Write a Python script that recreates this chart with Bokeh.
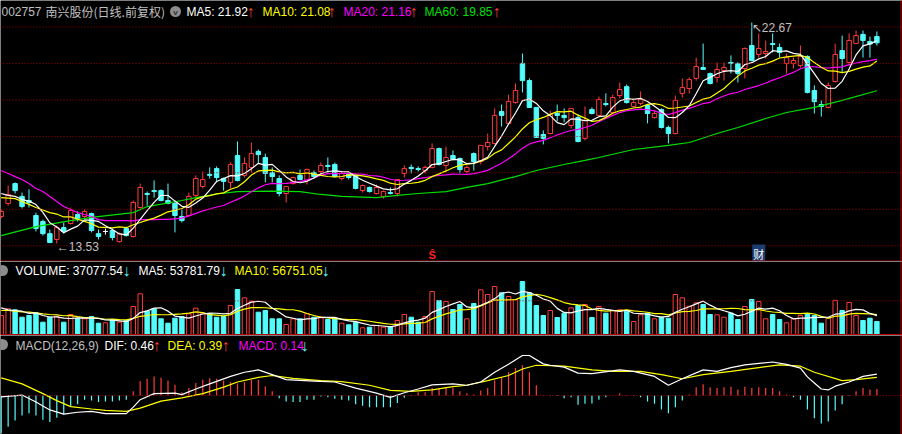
from bokeh.plotting import figure
from bokeh.layouts import column
from bokeh.models import Range1d, Span, Label, ColumnDataSource
from bokeh.embed import file_html
from bokeh.resources import INLINE

# ---------------------------------------------------------------
# 002757 南兴股份, daily bars (forward adjusted)
# ---------------------------------------------------------------
opens = [
    14.65, 15.19, 16.01, 15.48, 15.31, 14.69, 14.44, 13.94, 13.70, 14.19,
    14.36, 14.73, 14.65, 14.77, 13.94, 14.03, 14.07, 13.61, 14.15, 13.82,
    15.02, 15.60, 15.72, 15.72, 15.31, 15.19, 14.65, 14.69, 15.52, 15.89,
    16.39, 16.63, 16.22, 16.06, 17.17, 16.35, 16.68, 17.34, 17.09, 16.47,
    16.22, 15.60, 16.01, 16.35, 16.14, 16.47, 16.51, 16.76, 16.80, 16.22,
    16.39, 16.35, 15.72, 15.85, 15.60, 15.48, 15.64, 15.60, 16.43, 16.68,
    16.63, 16.55, 16.68, 17.46, 16.76, 17.17, 17.05, 16.51, 17.25, 16.92,
    17.54, 17.67, 18.99, 18.50, 19.36, 20.98, 20.27, 19.16, 18.04, 18.08,
    18.91, 18.83, 18.41, 18.74, 17.88, 19.07, 18.83, 19.32, 18.95, 19.65,
    20.02, 19.20, 19.32, 19.24, 18.74, 19.07, 18.33, 18.08, 19.74, 19.94,
    20.36, 20.81, 20.56, 20.40, 20.69, 21.02, 20.98, 20.77, 21.72, 21.35,
    21.39, 21.80, 21.64, 20.98, 20.98, 20.89, 21.27, 19.86, 19.28, 19.16,
    20.23, 21.51, 21.02, 21.80, 22.18, 21.89, 22.09,
]
highs = [
    14.94, 15.93, 16.06, 15.64, 15.77, 14.81, 14.52, 14.11, 14.28, 14.40,
    15.02, 14.86, 14.94, 14.81, 14.11, 14.15, 14.15, 13.99, 14.23, 15.31,
    16.01, 15.68, 16.14, 15.77, 16.01, 15.31, 14.94, 15.64, 16.35, 16.51,
    16.68, 16.72, 16.26, 16.88, 17.75, 17.09, 17.71, 17.42, 17.25, 16.68,
    16.35, 15.89, 16.30, 16.59, 16.63, 16.55, 16.88, 17.09, 16.88, 16.51,
    16.47, 16.39, 15.97, 15.89, 15.97, 15.72, 15.85, 16.18, 16.76, 16.80,
    16.72, 16.76, 17.67, 17.50, 17.54, 17.38, 17.09, 16.76, 17.30, 17.59,
    18.08, 19.12, 19.28, 19.69, 20.15, 21.39, 20.36, 19.16, 18.21, 19.03,
    19.28, 19.12, 19.12, 18.87, 19.20, 19.16, 19.61, 19.74, 19.69, 20.19,
    20.11, 19.53, 19.82, 19.28, 19.03, 19.12, 18.41, 19.65, 20.36, 20.40,
    21.22, 21.80, 20.60, 21.02, 21.02, 21.31, 21.02, 21.64, 22.67, 22.22,
    21.93, 22.22, 21.80, 21.39, 21.22, 21.72, 21.31, 20.07, 19.45, 20.19,
    21.80, 22.13, 22.22, 22.34, 22.34, 22.09, 22.30,
]
lows = [
    14.57, 15.10, 15.60, 14.98, 15.02, 14.03, 13.86, 13.57, 13.53, 13.94,
    14.32, 14.44, 14.57, 13.99, 13.70, 13.90, 13.66, 13.57, 13.82, 13.78,
    14.98, 15.10, 15.43, 15.27, 15.15, 13.99, 14.40, 14.65, 15.43, 15.81,
    16.22, 16.06, 15.72, 15.81, 16.10, 16.26, 16.47, 16.84, 16.06, 16.06,
    15.48, 15.23, 15.97, 16.14, 15.97, 16.22, 16.43, 16.43, 16.26, 16.14,
    16.18, 15.77, 15.64, 15.64, 15.56, 15.39, 15.56, 15.48, 16.26, 16.43,
    16.51, 16.43, 16.63, 16.76, 16.47, 16.97, 16.43, 16.43, 16.55, 16.80,
    17.38, 17.63, 18.37, 18.45, 19.32, 19.78, 19.16, 17.92, 17.63, 18.04,
    18.58, 18.54, 18.29, 17.71, 17.79, 18.87, 18.78, 19.20, 18.91, 19.53,
    19.32, 19.16, 19.24, 18.50, 18.70, 18.29, 17.67, 18.04, 19.57, 19.74,
    20.27, 20.73, 20.11, 20.19, 20.27, 20.56, 20.19, 20.36, 21.06, 21.22,
    21.18, 21.43, 21.22, 20.56, 20.77, 20.81, 19.74, 18.91, 18.78, 19.12,
    20.19, 20.60, 20.89, 21.80, 21.22, 21.22, 21.72,
]
closes = [
    14.86, 15.56, 15.72, 15.06, 15.23, 14.15, 13.94, 13.57, 14.19, 14.03,
    14.90, 14.57, 14.86, 14.07, 13.82, 14.03, 13.78, 13.94, 13.86, 15.23,
    15.85, 15.56, 15.68, 15.31, 15.19, 14.69, 14.48, 15.48, 16.22, 16.18,
    16.35, 16.26, 16.10, 16.80, 16.14, 16.84, 17.25, 17.21, 16.43, 16.30,
    15.60, 15.89, 16.26, 16.18, 16.59, 16.30, 16.76, 16.72, 16.30, 16.43,
    16.26, 15.81, 15.93, 15.68, 15.85, 15.68, 15.60, 16.18, 16.63, 16.63,
    16.59, 16.68, 17.46, 16.80, 17.09, 17.01, 16.59, 16.68, 16.92, 17.59,
    17.71, 18.83, 18.83, 19.41, 19.86, 20.27, 19.16, 17.92, 17.88, 18.87,
    18.83, 18.74, 19.12, 17.75, 18.62, 18.91, 19.49, 19.28, 19.57, 19.90,
    19.36, 19.36, 19.49, 18.91, 18.91, 18.33, 18.08, 19.45, 19.98, 20.31,
    20.85, 20.73, 20.15, 20.73, 20.81, 20.98, 20.56, 21.60, 21.10, 21.60,
    21.47, 21.76, 21.43, 21.22, 21.10, 21.27, 19.78, 19.40, 19.20, 20.07,
    21.35, 21.18, 21.93, 22.13, 21.93, 21.78, 21.83,
]
volumes = [
    54150, 73245, 70395, 49305, 54150, 61845, 35055, 49305, 51300, 35055,
    57000, 44745, 44745, 51300, 32205, 33345, 41895, 35055, 39900, 79800,
    115995, 66405, 73245, 44745, 32205, 46455, 51300, 58995, 74955, 60705,
    58995, 49305, 51300, 82650, 128250, 104595, 94905, 63555, 68400, 44745,
    44745, 28500, 44745, 44745, 58995, 49305, 47595, 42750, 44745, 32205,
    27645, 35055, 19095, 20805, 25650, 20805, 22800, 39900, 57000, 49305,
    35055, 51300, 122550, 96900, 94050, 71250, 85500, 44745, 88350, 127395,
    114000, 136800, 118845, 108300, 98895, 151050, 118845, 82650, 54150, 68400,
    48450, 60705, 76095, 82650, 85500, 48450, 79800, 60705, 68400, 70395,
    66405, 37050, 56145, 60705, 44745, 49305, 46455, 114000, 104595, 80655,
    90345, 85500, 57000, 56145, 49305, 60705, 42750, 79800, 99750, 94050,
    44745, 57000, 42750, 33345, 44745, 54150, 58995, 54150, 32205, 46455,
    97391.55, 68400, 91326.41, 54150, 39900, 46455, 37077.54,
]

# Averages whose window reaches back before the first bar shown
ma5_head = [15.60, 15.52, 15.48, 15.35]
ma10_head = [15.43, 15.41, 15.39, 15.27, 15.15, 15.02, 14.92, 14.81, 14.75]
ma20_head = [16.55, 16.43, 16.30, 16.18, 16.01, 15.81, 15.68, 15.48, 15.27, 15.06,
             14.94, 14.81, 14.73, 14.65, 14.52, 14.48, 14.48, 14.48, 14.48]
vol_ma5_head = [76095, 70395, 68400, 66405]
vol_ma10_head = [68400, 68400, 66405, 64695, 63555, 61845, 58995, 57000, 56145]

# 60-day average, sampled at bar positions
ma60_at = [0, 5, 10, 13, 19, 21, 26, 28, 31, 34, 39, 43, 46, 49, 54, 57, 60, 64, 67, 70,
           74, 77, 81, 84, 86, 91, 96, 99, 103, 106, 110, 113, 117, 121, 126]
ma60_val = [13.86, 14.23, 14.48, 14.61, 14.81, 15.06, 15.31, 15.43, 15.58, 15.68, 15.70,
            15.68, 15.56, 15.48, 15.43, 15.52, 15.60, 15.68, 15.85, 16.01, 16.30, 16.55,
            16.80, 16.97, 17.09, 17.42, 17.59, 17.71, 18.08, 18.33, 18.70, 18.95, 19.16,
            19.45, 19.85]

# MACD(12,26,9)
dif_at = [0, 3, 5, 7, 9, 11, 13, 15, 18, 19, 20, 22, 25, 26, 28, 30, 33, 35, 37, 39, 41,
          45, 48, 51, 54, 56, 58, 60, 62, 65, 67, 69, 71, 73, 75, 76, 78, 79, 81, 83, 85,
          89, 91, 94, 96, 98, 101, 103, 105, 107, 111, 113, 115, 116, 117, 118, 119, 120,
          122, 124, 126]
dif_val = [-0.03, 0.01, -0.14, -0.31, -0.40, -0.36, -0.34, -0.39, -0.39, -0.25, -0.09,
           0.04, 0.05, 0.02, 0.14, 0.25, 0.41, 0.50, 0.55, 0.45, 0.34, 0.31, 0.29, 0.16,
           0.05, -0.04, 0.06, 0.14, 0.23, 0.25, 0.22, 0.29, 0.50, 0.67, 0.86, 0.86, 0.68,
           0.65, 0.61, 0.48, 0.47, 0.55, 0.52, 0.41, 0.22, 0.36, 0.55, 0.52, 0.60, 0.66,
           0.72, 0.67, 0.59, 0.40, 0.27, 0.14, 0.12, 0.20, 0.29, 0.41, 0.46]
dea_at = [0, 3, 6, 8, 10, 13, 15, 18, 20, 23, 26, 29, 32, 34, 37, 39, 42, 46, 49, 53, 56,
          59, 62, 65, 67, 70, 73, 75, 77, 81, 85, 88, 92, 95, 98, 101, 105, 109, 112, 115,
          117, 121, 123, 126]
dea_val = [0.38, 0.25, 0.04, -0.11, -0.24, -0.29, -0.32, -0.34, -0.27, -0.12, -0.05, 0.04,
           0.18, 0.29, 0.39, 0.43, 0.37, 0.32, 0.30, 0.22, 0.11, 0.09, 0.12, 0.19, 0.22,
           0.32, 0.43, 0.57, 0.65, 0.63, 0.55, 0.52, 0.52, 0.45, 0.36, 0.45, 0.52, 0.60,
           0.66, 0.63, 0.50, 0.32, 0.34, 0.39]
macd_hist = [
    -0.81, -0.67, -0.54, -0.43, -0.38, -0.43, -0.52, -0.57, -0.48, -0.41,
    -0.24, -0.19, -0.09, -0.11, -0.14, -0.13, -0.13, -0.11, -0.09, 0.09,
    0.31, 0.36, 0.41, 0.38, 0.32, 0.23, 0.07, 0.16, 0.27, 0.34,
    0.37, 0.36, 0.32, 0.29, 0.26, 0.29, 0.34, 0.34, 0.20, 0.09,
    -0.06, -0.13, -0.14, -0.14, -0.09, -0.09, -0.02, -0.04, -0.07, -0.09,
    -0.11, -0.19, -0.22, -0.25, -0.25, -0.25, -0.25, -0.16, -0.05, -0.01,
    0.07, 0.07, 0.16, 0.14, 0.18, 0.16, 0.09, 0.05, 0.02, 0.11,
    0.16, 0.32, 0.39, 0.50, 0.59, 0.65, 0.50, 0.22, 0.01, 0.01,
    -0.01, -0.06, -0.04, -0.20, -0.18, -0.17, -0.09, -0.04, 0.00, 0.05,
    0.01, -0.01, -0.04, -0.13, -0.18, -0.30, -0.38, -0.25, -0.11, 0.02,
    0.18, 0.24, 0.18, 0.16, 0.18, 0.19, 0.13, 0.19, 0.16, 0.18,
    0.16, 0.16, 0.09, 0.02, -0.04, -0.09, -0.30, -0.49, -0.60, -0.56,
    -0.32, -0.19, -0.01, 0.09, 0.16, 0.13, 0.14,
]

# event markers along the bottom of the price panel
marker_s_at = 62
marker_cai_at = 109

# ---------------------------------------------------------------
UP = "#ff3c3c"
DOWN = "#54fcfc"
FLAT = "#ffffff"
GRID = "#a00000"
FRAME = "#b40000"
TEXT = "#c0c0c0"
FONT = "Liberation Sans"
CJK = "Noto Sans CJK SC"


def moving_average(series, window, head):
    out = list(head)
    for i in range(len(head), len(series)):
        out.append(sum(series[i - window + 1:i + 1]) / window)
    return out


n = len(closes)
bars = list(range(n))
ma5 = moving_average(closes, 5, ma5_head)
ma10 = moving_average(closes, 10, ma10_head)
ma20 = moving_average(closes, 20, ma20_head)
vol_ma5 = moving_average(volumes, 5, vol_ma5_head)
vol_ma10 = moving_average(volumes, 10, vol_ma10_head)

kind = ["up" if c > o else ("down" if c < o else "flat") for o, c in zip(opens, closes)]
bar_color = [UP if k == "up" else DOWN if k == "down" else FLAT for k in kind]
bar_fill = ["black" if k != "down" else DOWN for k in kind]
vol_color = [DOWN if k == "down" else UP for k in kind]

# ---- layout geometry -------------------------------------------
W = 902
BAR_PX = 6.95                     # horizontal pixels per trading day
X_START = -0.1007
xr = Range1d(X_START, X_START + W / BAR_PX)

MAIN_H, VOL_H, MACD_H = 261, 74, 99
PRICE_TOP, PRICE_PX = 23.582, 24.18          # price at top edge, pixels per yuan
VOL_PX = 2850.0                               # shares per pixel
MACD_PX = 0.0215                              # MACD units per pixel


def panel(h, lo, hi):
    p = figure(width=W, height=h, x_range=xr, y_range=Range1d(lo, hi),
               output_backend="svg", toolbar_location=None,
               x_axis_location=None, y_axis_location=None, min_border=0,
               background_fill_color="black", border_fill_color="black",
               outline_line_color=None)
    p.grid.visible = False
    return p


def screen_x(px):
    return X_START + px / BAR_PX


def add_text(p, items, y):
    """Header entries: (text, left px, colour, font, size)."""
    for text, x, color, font, size in items:
        p.add_layout(Label(x=x, y=y, x_units="screen", y_units="screen", text=text,
                           text_color=color, text_font=font, text_font_size=size,
                           text_baseline="middle"))


def add_right_edge(p):
    p.add_layout(Span(location=screen_x(900.5), dimension="height",
                      line_color=FRAME, line_width=1))


ARROW = "16px"
TXT = "12px"

# ---- price panel -------------------------------------------------
p1 = panel(MAIN_H, PRICE_TOP - MAIN_H / PRICE_PX, PRICE_TOP)
for lvl in [13.44, 14.95, 16.46, 17.96, 19.47, 20.98, 22.49]:
    p1.add_layout(Span(location=lvl, dimension="width", line_color=GRID,
                       line_dash="1 2", line_width=1))

csrc = ColumnDataSource(dict(
    x=bars, high=highs, low=lows,
    top=[max(o, c) for o, c in zip(opens, closes)],
    bottom=[min(o, c) for o, c in zip(opens, closes)],
    color=bar_color, fill=bar_fill,
))
p1.segment(x0="x", y0="high", x1="x", y1="low", line_color="color", line_width=1, source=csrc)
p1.vbar(x="x", width=0.64, top="top", bottom="bottom", fill_color="fill",
        line_color="color", line_width=1, source=csrc)

p1.line(ma60_at, ma60_val, line_color="#00e000", line_width=1.2)
p1.line(bars, ma20, line_color="#ff00ff", line_width=1.2)
p1.line(bars, ma10, line_color="#ffff00", line_width=1.2)
p1.line(bars, ma5, line_color="#ffffff", line_width=1.2)

# extreme-price notes
lo_i = lows.index(min(lows))
hi_i = highs.index(max(highs))
p1.add_layout(Label(x=lo_i, y=MAIN_H - 246.5, x_units="data", y_units="screen",
                    text=f"\u2190{lows[lo_i]:.2f}", text_color=TEXT, text_font=FONT,
                    text_font_size="12px", text_baseline="middle"))
p1.add_layout(Label(x=hi_i, y=MAIN_H - 27, x_units="data", y_units="screen",
                    text=f"\u2196{highs[hi_i]:.2f}", text_color=TEXT, text_font=FONT,
                    text_font_size="12px", text_baseline="middle"))

# bottom markers
p1.add_layout(Label(x=marker_s_at, y=MAIN_H - 254.5, x_units="data", y_units="screen",
                    text="\u015c", text_color="#ff2020", text_font=FONT,
                    text_font_size="11px", text_font_style="bold",
                    text_align="center", text_baseline="middle"))
p1.add_layout(Label(x=marker_cai_at, y=MAIN_H - 253, x_units="data", y_units="screen",
                    text="财", text_color="#ffffff", text_font=CJK, text_font_size="11px",
                    text_align="center", text_baseline="middle",
                    background_fill_color="#1c3b70", padding=1))

p1.add_layout(Span(location=PRICE_TOP - 260.5 / PRICE_PX, dimension="width",
                   line_color=FRAME, line_width=1))
add_right_edge(p1)

# header
p1.scatter([screen_x(175)], [PRICE_TOP - 11 / PRICE_PX], size=11,
           fill_color="#8c8c8c", line_color=None)
p1.add_layout(Label(x=175, y=MAIN_H - 11.5, x_units="screen", y_units="screen", text="v",
                    text_color="#333333", text_font=FONT, text_font_size="8px",
                    text_font_style="bold", text_align="center", text_baseline="middle"))
add_text(p1, [
    ("002757", 1, TEXT, FONT, TXT),
    ("南兴股份(日线.前复权)", 45, TEXT, CJK, TXT),
    (f"MA5: {ma5[-1]:.2f}", 186, "#ffffff", FONT, TXT),
    ("\u2191", 246, UP, FONT, ARROW),
    (f"MA10: {ma10[-1]:.2f}", 262, "#ffff00", FONT, TXT),
    ("\u2191", 327, UP, FONT, ARROW),
    (f"MA20: {ma20[-1]:.2f}", 343, "#ff00ff", FONT, TXT),
    ("\u2191", 409, UP, FONT, ARROW),
    (f"MA60: {ma60_val[-1]:.2f}", 424, "#00e000", FONT, TXT),
    ("\u2191", 492, UP, FONT, ARROW),
], MAIN_H - 11)

# ---- volume panel --------------------------------------------------
VOL_BASE = 334 - 261          # baseline distance from panel top, px
p2 = panel(VOL_H, -(VOL_H - VOL_BASE) * VOL_PX, VOL_BASE * VOL_PX)
p2.add_layout(Span(location=96000, dimension="width", line_color=GRID,
                   line_dash="1 2", line_width=1))
vsrc = ColumnDataSource(dict(x=bars, v=volumes, color=vol_color,
                             fill=["black" if c == UP else DOWN for c in vol_color]))
p2.vbar(x="x", width=0.64, top="v", bottom=0, fill_color="fill", line_color="color",
        line_width=1, source=vsrc)
p2.line(bars, vol_ma10, line_color="#ffff00", line_width=1.2)
p2.line(bars, vol_ma5, line_color="#ffffff", line_width=1.2)
p2.add_layout(Span(location=0, dimension="width", line_color=FRAME, line_width=1))
add_right_edge(p2)
p2.scatter([screen_x(2)], [(VOL_BASE - 9) * VOL_PX], size=11,
           fill_color="#8c8c8c", line_color=None)
add_text(p2, [
    (f"VOLUME: {volumes[-1]:.2f}", 15, "#ffffff", FONT, TXT),
    ("\u2193", 122, DOWN, FONT, ARROW),
    (f"MA5: {vol_ma5[-1]:.2f}", 138, "#ffffff", FONT, TXT),
    ("\u2193", 219, DOWN, FONT, ARROW),
    (f"MA10: {vol_ma10[-1]:.2f}", 234, "#ffff00", FONT, TXT),
    ("\u2193", 321, DOWN, FONT, ARROW),
], VOL_H - 9)

# ---- MACD panel ----------------------------------------------------
ZERO = 395 - 335              # zero line distance from panel top, px
p3 = panel(MACD_H, -(MACD_H - ZERO) * MACD_PX, ZERO * MACD_PX)
p3.add_layout(Span(location=0, dimension="width", line_color=GRID,
                   line_dash="1 2", line_width=1))
hsrc = ColumnDataSource(dict(x=bars, h=macd_hist, z=[0] * n,
                             color=[UP if v >= 0 else DOWN for v in macd_hist]))
p3.segment(x0="x", y0="z", x1="x", y1="h", line_color="color", line_width=1.2, source=hsrc)
p3.line(dea_at, dea_val, line_color="#ffff00", line_width=1.2)
p3.line(dif_at, dif_val, line_color="#ffffff", line_width=1.2)
add_right_edge(p3)
p3.scatter([screen_x(2)], [(ZERO - 9) * MACD_PX], size=11,
           fill_color="#8c8c8c", line_color=None)
add_text(p3, [
    ("MACD(12,26,9)", 15, TEXT, FONT, TXT),
    (f"DIF: {dif_val[-1]:.2f}", 104, "#ffffff", FONT, TXT),
    ("\u2191", 152, UP, FONT, ARROW),
    (f"DEA: {dea_val[-1]:.2f}", 167, "#ffff00", FONT, TXT),
    ("\u2191", 221, UP, FONT, ARROW),
    (f"MACD: {macd_hist[-1]:.2f}", 238, "#ff00ff", FONT, TXT),
    ("\u2193", 300, DOWN, FONT, ARROW),
], MACD_H - 10)

layout = column(p1, p2, p3, spacing=0)
open("out.html", "w").write(file_html(layout, INLINE, title="002757 南兴股份"))
